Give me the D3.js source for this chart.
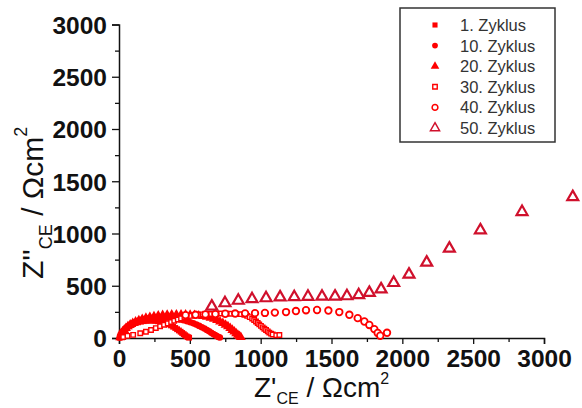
<!DOCTYPE html>
<html><head><meta charset="utf-8">
<script src="https://cdn.jsdelivr.net/npm/d3@7"></script>
<style>body{margin:0;background:#fff}svg{display:block}</style>
</head><body>
<script>
// ---- data (Z' , Z'') in Ωcm² ----
const xTicks = [0, 500, 1000, 1500, 2000, 2500, 3000];
const yTicks = [0, 500, 1000, 1500, 2000, 2500, 3000];
const seriesNames = ["1. Zyklus", "10. Zyklus", "20. Zyklus", "30. Zyklus", "40. Zyklus", "50. Zyklus"];

const cycle1 = [[5,3],[8,15],[12,28],[17,42],[25,56],[33,70],[44,85],[56,98],[70,112],[85,123],[100,133],[118,143],[135,150],[155,156],[175,161],[195,164],[215,166],[235,166],[255,164],[275,160],[295,155],[315,148],[333,140],[350,130],[367,120],[382,108],[397,96],[410,84],[423,72],[435,60],[446,48],[457,37],[467,26],[477,16],[487,8],[495,3]];
const cycle10 = [[6,4],[10,18],[15,34],[22,50],[30,66],[40,82],[52,98],[66,113],[82,128],[100,142],[120,155],[142,166],[165,176],[190,184],[215,190],[242,194],[270,197],[298,198],[326,197],[354,194],[380,190],[405,184],[430,178],[455,170],[480,161],[503,151],[525,140],[546,128],[566,116],[585,103],[603,90],[620,77],[636,64],[651,51],[665,39],[678,28],[690,18],[702,10],[712,4]];
const cycle20 = [[8,5],[13,22],[19,40],[27,58],[37,76],[49,94],[63,111],[79,127],[97,142],[117,156],[140,169],[164,181],[190,191],[218,200],[247,207],[277,213],[308,218],[340,221],[372,223],[405,224],[438,224],[470,223],[502,221],[533,218],[563,214],[592,209],[620,202],[646,193],[670,182],[692,170],[713,157],[733,142],[752,126],[769,110],[785,93],[800,76],[814,60],[827,44],[839,30],[850,17],[860,7]];
const cycle30 = [[30,10],[60,20],[100,30],[150,45],[190,60],[226,76],[260,95],[290,112],[318,127],[344,140],[368,153],[390,165],[415,177],[438,188],[462,197],[485,205],[508,212],[531,218],[560,222],[590,226],[620,228],[649,230],[685,232],[720,234],[755,233],[791,232],[826,230],[861,228],[885,222],[905,212],[923,200],[940,186],[954,172],[967,158],[979,144],[990,130],[1002,116],[1014,102],[1026,89],[1038,76],[1050,64],[1061,52],[1073,42],[1085,33],[1110,26],[1132,29]];
const cycle40 = [[470,218],[540,222],[610,226],[680,229],[750,232],[820,234],[890,236],[960,238],[1030,240],[1100,243],[1179,248],[1249,258],[1320,266],[1398,268],[1478,263],[1555,248],[1626,222],[1685,190],[1732,158],[1767,125],[1802,85],[1826,48],[1844,22],[1892,50]];
const cycle50 = [[655,302],[748,334],[842,358],[939,373],[1038,382],[1137,390],[1237,392],[1334,396],[1433,397],[1525,398],[1609,401],[1692,411],[1767,433],[1850,467],[1939,528],[2047,608],[2172,723],[2332,857],[2551,1032],[2845,1207],[3203,1350]];

const W = 582, H = 408;
const svg = d3.select("body").append("svg").attr("width", W).attr("height", H);

const x = d3.scaleLinear().domain([0, 3000]).range([119, 544]);
const y = d3.scaleLinear().domain([0, 3000]).range([338, 24.5]);

// axes
const font = "'Liberation Sans', Arial, sans-serif";
const xAxis = d3.axisBottom(x).tickValues(xTicks).tickSize(6).tickPadding(6).tickFormat(d3.format("d"));
const gx = svg.append("g").attr("transform", `translate(0,${y(0)})`).call(xAxis);
const xMinor = d3.axisBottom(x).tickValues(d3.range(250, 3000, 500)).tickSize(4).tickFormat("");
svg.append("g").attr("transform", `translate(0,${y(0)})`).call(xMinor).select(".domain").remove();

const yAxis = d3.axisLeft(y).tickValues(yTicks).tickSize(7).tickPadding(5).tickFormat(d3.format("d"));
const gy = svg.append("g").attr("transform", `translate(${x(0)},0)`).call(yAxis);
const yMinor = d3.axisLeft(y).tickValues(d3.range(250, 3000, 500)).tickSize(4).tickFormat("");
svg.append("g").attr("transform", `translate(${x(0)},0)`).call(yMinor).select(".domain").remove();

svg.selectAll(".domain").attr("stroke", "#111").attr("stroke-width", 1.5);
svg.selectAll(".tick line").attr("stroke", "#111").attr("stroke-width", 1.3);
svg.selectAll(".tick text").attr("font-family", font).attr("font-size", 24.5).attr("font-weight", "bold").attr("fill", "#111");
gy.selectAll(".tick text").attr("dy", "0.36em");

// markers
const red = "#ff0000";
const specs = [
  {data: cycle1, type: d3.symbolSquare, size: 34, fill: red, stroke: "none", sw: 0, lsize: 26},
  {data: cycle10, type: d3.symbolCircle, size: 34, fill: red, stroke: "none", sw: 0, lsize: 26},
  {data: cycle20, type: d3.symbolTriangle, size: 42, fill: red, stroke: "none", sw: 0, lsize: 32},
  {data: cycle30, type: d3.symbolSquare, size: 20, fill: "#fff", stroke: red, sw: 1.4, lsize: 20},
  {data: cycle40, type: d3.symbolCircle, size: 34, fill: "#fff", stroke: red, sw: 1.8, lsize: 26},
  {data: cycle50, type: d3.symbolTriangle, size: 52, fill: "#fff", stroke: "#d0102c", sw: 2.2, lsize: 36}
];
const plot = svg.append("g");
specs.forEach(s => {
  plot.append("g").selectAll("path").data(s.data).join("path")
    .attr("transform", d => `translate(${x(d[0])},${y(d[1])})`)
    .attr("d", d3.symbol().type(s.type).size(s.size))
    .attr("fill", s.fill).attr("stroke", s.stroke).attr("stroke-width", s.sw);
});

// legend
const lg = svg.append("g");
lg.append("rect").attr("x", 400).attr("y", 8).attr("width", 155).attr("height", 134)
  .attr("fill", "#fff").attr("stroke", "#333").attr("stroke-width", 1.5);
specs.forEach((s, i) => {
  const cy = 25 + i * 20.6;
  lg.append("path").attr("transform", `translate(435,${cy})`)
    .attr("d", d3.symbol().type(s.type).size(s.lsize))
    .attr("fill", s.fill).attr("stroke", s.stroke).attr("stroke-width", Math.min(s.sw, 1.5));
  lg.append("text").attr("x", 460).attr("y", cy).attr("dy", "0.36em")
    .attr("font-family", font).attr("font-size", 16.5).attr("fill", "#333").text(seriesNames[i]);
});

// axis titles
const xt = svg.append("text").attr("x", 254).attr("y", 397).attr("font-family", font).attr("font-size", 28).attr("fill", "#111");
xt.append("tspan").text("Z'");
xt.append("tspan").attr("font-size", 16).attr("dy", 7).text("CE");
xt.append("tspan").attr("dy", -7).text(" / Ωcm");
xt.append("tspan").attr("font-size", 16).attr("dy", -13).text("2");

const yt = svg.append("text").attr("transform", "translate(43,279) rotate(-90)").attr("font-family", font).attr("font-size", 30).attr("fill", "#111");
yt.append("tspan").text("Z''");
yt.append("tspan").attr("font-size", 18).attr("dy", 9).text("CE");
yt.append("tspan").attr("dy", -9).text(" / Ωcm");
yt.append("tspan").attr("font-size", 18).attr("dy", -16).text("2");
</script>
</body></html>
